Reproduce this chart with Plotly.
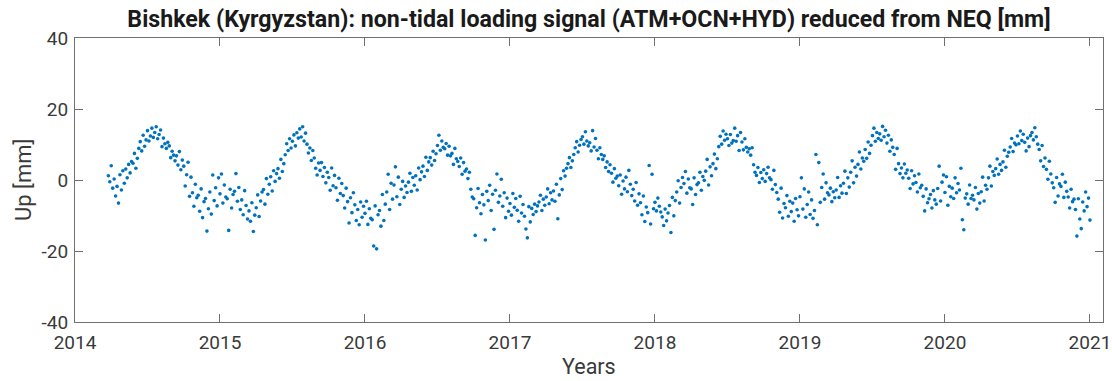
import plotly.graph_objects as go

start_2014 = 2014.23
up_2014 = [1.2, -0.5, 4.0, -2.3, 0.3, -4.5, -1.8,
           -6.5, 1.5, -2.8, 2.6, -0.9,
           3.1, 0.6, 4.4, 2.0, 5.2,
           4.7, 7.5, 3.3, 6.1, 8.9,
           10.8, 8.2, 12.6, 9.5, 11.3,
           13.9, 11.0, 12.4, 14.6, 12.0,
           13.4, 15.0, 11.6, 12.8, 14.1,
           9.4, 11.8, 10.2, 8.9, 10.6,
           9.6, 6.3, 8.1, 7.0, 5.4,
           6.8, 4.2, 8.0, 2.9, 5.6,
           3.9, -1.7, 1.5, 5.0, -4.6,
           0.8, -3.6, -7.4, -1.2, -5.0,
           -4.3, -8.8, -2.5, -10.6, -6.1,
           -5.2, -14.4, -8.1, -3.4, -9.6,
           1.4, -5.8, -2.2, -7.3, 0.6]
up_2015 = [-3.9, 1.7, -6.5, -1.4, -4.8,
           -5.3, -14.2, -2.6, -7.9, -4.1,
           -3.2, 1.8, -6.0, -2.1, -8.3,
           -5.6, -9.8, -3.0, -7.2, -11.0,
           -8.7, -11.6, -6.4, -14.5, -9.9,
           -7.8, -4.2, -10.3, -5.9, -3.4,
           -2.7, -6.8, 0.4, -4.0, -1.2,
           0.9, -3.1, 2.6, -0.4, 1.8,
           3.2, 0.5, 5.8, 2.4, 4.6,
           7.1, 10.2, 8.3, 11.6, 9.0,
           10.9, 12.7, 9.6, 13.3, 11.8,
           14.4, 12.1, 15.0, 11.0, 13.2,
           10.1, 7.6, 9.0, 5.5, 8.3,
           6.2, 3.3, 1.4, 4.8, 2.7,
           4.9, 1.0, 3.5, -0.8, 2.2,
           0.7, -2.9, 3.4, -1.6, 1.3,
           -2.2, -5.7, 0.5, -3.8, -1.0,
           -4.4, -7.9, -2.3, -6.1, -12.1,
           -5.0, -9.2, -3.6, -7.0, -11.4,
           -8.3, -12.6, -6.2, -10.5, -7.4]
up_2016 = [-9.4, -6.0, -12.5, -8.1, -10.8,
           -11.2, -18.6, -7.3, -19.4, -9.8,
           -8.6, -13.0, -4.1, -11.4, -6.8,
           -3.4, 1.6, -8.3, -0.9, -5.4,
           -1.4, 3.7, -4.7, 0.8, -6.9,
           -2.6, -0.4, -4.9, -1.7, -3.5,
           -0.6, 1.9, -3.2, 0.7, -1.5,
           1.2, -2.8, 3.4, 0.1, 2.3,
           3.9, 1.0, 6.4, 2.7, 5.1,
           6.3, 4.2, 8.1, 5.5, 7.4,
           9.7, 12.6, 8.4, 11.0, 9.2,
           8.8, 10.3, 7.0, 9.5, 6.8,
           7.5, 4.4, 8.9, 6.0, 5.2,
           3.8, 6.2, 1.6, 4.9, 2.5,
           3.1, 0.4, 2.2, -2.6, -4.8,
           -5.3, -15.6, -7.8, -2.4, -6.4,
           -9.5, -4.1, -7.0, -16.9, -3.2,
           -5.8, -1.5, -8.6, -4.0, -13.9,
           -2.9, 1.7, -6.3, -4.5, 0.2,
           -7.4, -3.6, -10.6, -5.1, -8.8]
up_2017 = [-6.6, -9.9, -3.8, -7.7, -5.2,
           -8.5, -11.6, -4.6, -9.3, -6.9,
           -10.2, -13.8, -16.3, -7.5, -11.8,
           -8.0, -9.7, -6.8, -8.9, -7.3,
           -6.2, -4.3, -8.6, -5.4, -7.1,
           -4.8, -2.5, -6.7, -3.6, -5.6,
           -3.1, -6.0, -1.2, -10.9, -4.2,
           0.4, -2.7, 2.6, 1.1, 3.3,
           4.6, 6.3, 3.5, 5.4, 7.2,
           9.1, 10.8, 7.9, 9.8, 11.4,
           12.2, 10.1, 13.6, 11.0, 9.6,
           10.5, 8.2, 13.9, 9.3, 11.7,
           8.4, 6.0, 9.1, 7.2, 5.8,
           6.8, 3.5, 5.1, 2.4, 4.3,
           1.9, -0.6, 3.2, 0.5, 1.1,
           -1.6, 1.4, -4.0, -0.3, -2.5,
           0.8, -3.3, 2.7, -1.2, -4.4,
           -2.6, -5.9, -0.7, -7.1, -3.9,
           -6.4, -9.8, -4.5, -11.7, -7.6,
           -9.2, 4.1, -12.4, 1.6, -8.1]
up_2018 = [-6.3, -8.7, -5.1, -7.4, -9.0,
           -10.4, -12.8, -8.2, -11.5, -9.3,
           -7.2, -14.8, -4.9, -10.1, -5.8,
           -3.4, -0.2, -6.5, -2.1, 0.7,
           -1.0, 2.4, -3.7, 0.3, -2.2,
           -2.5, -6.9, 0.6, -4.1, -1.3,
           -0.8, 2.2, -2.9, 1.0, -0.1,
           2.5, 5.8, -1.4, 3.7, 1.2,
           4.6, 7.3, 3.2, 6.0, 9.4,
           12.3, 10.1, 13.8, 11.2, 12.9,
           11.6, 9.7, 12.8, 10.4, 11.1,
           14.6, 10.9, 12.5, 8.3, 13.4,
           10.7, 8.5, 11.6, 9.2, 7.9,
           8.8, 7.0, 9.1, 4.3, 2.2,
           1.3, 3.5, -0.7, 2.1, 0.4,
           2.9, -0.4, 1.8, 3.6, 0.6,
           0.1, -2.6, 2.7, -1.3, -3.5,
           -5.4, -9.1, -2.3, -10.7, -6.6,
           -7.8, -4.4, -10.2, -6.0, -8.9,
           -6.5, -11.6, -5.2, -8.4, -10.1]
up_2019 = [-4.7, 0.6, -8.2, -2.5, -10.5,
           -6.9, -3.4, -9.7, -5.6, -10.8,
           -8.6, 7.2, -12.6, 4.9, -6.3,
           -2.1, 1.7, -5.4, -0.8, -3.6,
           -4.2, -2.3, -6.1, -3.3, -5.0,
           -2.8, 0.7, -4.9, -1.6, -3.7,
           -0.9, 2.5, -3.8, 0.6, -2.0,
           2.2, 5.4, -0.8, 3.6, 1.1,
           4.4, 7.9, 3.1, 6.2, 5.3,
           8.6, 6.1, 10.7, 7.5, 9.8,
           12.5, 14.6, 10.9, 13.4, 11.7,
           13.0, 11.2, 15.1, 12.2, 14.0,
           10.4, 12.6, 8.1, 11.3, 9.2,
           7.2, 3.0, 8.9, 4.6, 1.8,
           3.4, 0.6, 4.5, 1.9, 2.8,
           0.5, -2.4, 2.6, -1.1, 1.2,
           -0.7, -3.4, 1.7, -2.2, -1.5,
           -4.6, -8.7, -2.5, -6.4, -5.3,
           -4.1, -7.9, -3.0, -5.6, -6.8,
           -2.4, 3.9, -5.9, -0.6, 1.4]
up_2020 = [-3.5, 0.9, -7.1, -1.8, -4.7,
           -2.3, -5.2, 0.6, -3.6, -1.0,
           -2.8, 3.3, -11.2, -14.0, -5.1,
           -3.9, -6.8, -1.4, -5.2, -4.3,
           -5.6, -2.1, -8.2, -3.8, -6.5,
           -3.3, 0.8, -5.9, -1.5, -2.6,
           0.6, 3.9, -1.7, 2.4, 1.3,
           3.2, 5.9, 1.6, 4.4, 2.7,
           5.1, 8.4, 3.6, 6.7, 7.8,
           9.3, 11.7, 8.0, 10.4, 9.9,
           12.4, 10.2, 13.8, 11.1, 12.9,
           10.6, 8.2, 11.8, 9.4, 12.5,
           13.4, 11.3, 14.7, 12.2, 10.1,
           8.6, 5.4, 9.7, 3.8, 6.2,
           3.0, 0.2, 5.3, 1.7, -0.8,
           -2.2, -6.3, 0.7, -4.5, -1.1,
           -1.8, 1.6, -4.9, -0.6, -3.2,
           -4.8, -7.9, -2.6, -6.1, -5.4,
           -8.3, -15.8, -5.3, -11.0, -13.7,
           -6.2, -8.7, -3.4, -7.5, -5.1]
up_2021 = [-11.3]

step = 0.01
segments = [(start_2014, up_2014), (2015.0, up_2015), (2016.0, up_2016),
            (2017.0, up_2017), (2018.0, up_2018), (2019.0, up_2019),
            (2020.0, up_2020), (2021.0, up_2021)]

x_years, y_up = [], []
for s, vals in segments:
    for i, v in enumerate(vals):
        x_years.append(round(s + i * step, 4))
        y_up.append(v)

x_ticks = [2014, 2015, 2016, 2017, 2018, 2019, 2020, 2021]
y_ticks = [-40, -20, 0, 20, 40]

title = "Bishkek (Kyrgyzstan): non-tidal loading signal (ATM+OCN+HYD) reduced from NEQ [mm]"
x_label = "Years"
y_label = "Up [mm]"
txt_col = "#3a3a3a"

fig = go.Figure()
fig.add_trace(go.Scatter(
    x=x_years, y=y_up, mode="markers",
    marker=dict(color="#0072BD", size=3.6, line=dict(width=0)),
    showlegend=False, hoverinfo="x+y"))

axis_common = dict(
    showline=True, linecolor="#707070", linewidth=1, mirror="ticks",
    ticks="inside", ticklen=8, tickwidth=1, tickcolor="#707070",
    showgrid=False, zeroline=False, automargin=False,
    tickfont=dict(family="Roboto", size=19, color=txt_col),
)

fig.update_layout(
    width=1112, height=381,
    margin=dict(l=75, r=9, t=38, b=59),
    paper_bgcolor="white", plot_bgcolor="white",
    title=dict(text="<b>" + title + "</b>", x=0.5, xref="paper", xanchor="center",
               y=0.95, yref="container", yanchor="middle",
               font=dict(family="Roboto", size=23.2, color="#1a1a1a")),
    xaxis=dict(range=[2014, 2021.09], tickvals=x_ticks,
               ticktext=[str(t) for t in x_ticks],
               ticklabelstandoff=3,
               **axis_common),
    yaxis=dict(range=[-40, 40], tickvals=y_ticks,
               ticktext=[str(t) for t in y_ticks],
               ticklabelstandoff=2,
               **axis_common),
    annotations=[
        dict(text=x_label, xref="paper", yref="paper", x=0.5, y=0,
             xanchor="center", yanchor="bottom", yshift=-58, showarrow=False,
             borderpad=0,
             font=dict(family="Roboto", size=21.5, color=txt_col)),
        dict(text=y_label, xref="paper", yref="paper", x=0, y=0.5,
             xanchor="center", yanchor="middle", xshift=-52, textangle=-90,
             showarrow=False,
             font=dict(family="Roboto", size=22, color=txt_col)),
    ],
)

fig.write_html("out.html")
